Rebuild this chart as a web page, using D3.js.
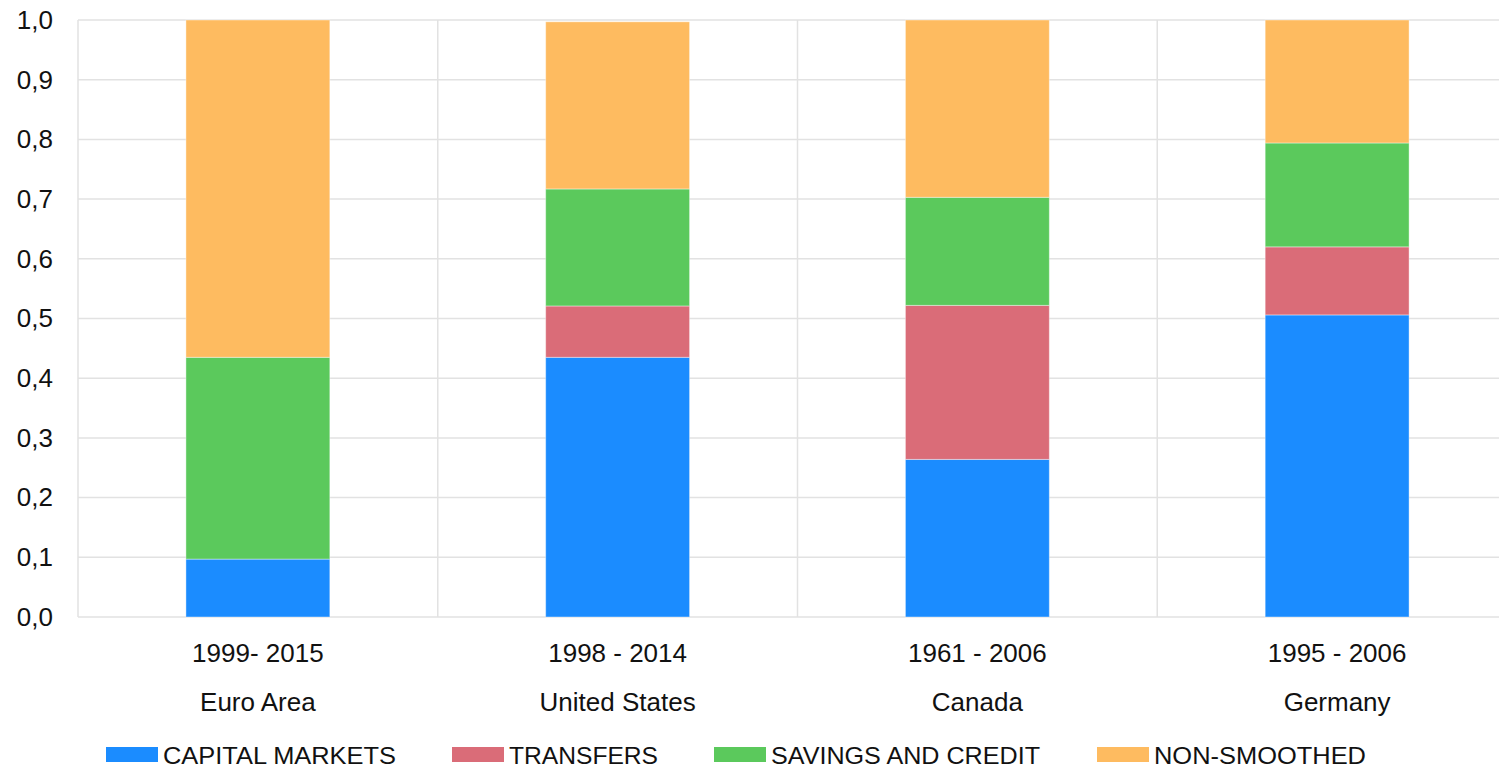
<!DOCTYPE html>
<head>
    <meta charset="utf-8">
    <style>
        body { margin: 0; background: #fff; }
        text { font-family: "Liberation Sans", Arial, sans-serif; fill: #111; }
        .grid line { stroke: #e2e2e2; stroke-width: 1.5; }
        .axis path, .axis line { display: none; }
    </style>
</head>
<svg width="1499" height="768" class="bar-chart"></svg>
<script src="https://cdn.jsdelivr.net/npm/d3@7/dist/d3.min.js"></script>
<script>
    const countries = ["Euro Area", "United States", "Canada", "Germany"];
    const periods = ["1999- 2015", "1998 - 2014", "1961 - 2006", "1995 - 2006"];
    const seriesNames = ["CAPITAL MARKETS", "TRANSFERS", "SAVINGS AND CREDIT", "NON-SMOOTHED"];
    const capitalMarkets = [0.097, 0.435, 0.264, 0.506];
    const transfers = [0.0, 0.086, 0.258, 0.114];
    const savingsCredit = [0.338, 0.196, 0.181, 0.174];
    const nonSmoothed = [0.565, 0.280, 0.297, 0.206];
    const yTicks = [0, 0.1, 0.2, 0.3, 0.4, 0.5, 0.6, 0.7, 0.8, 0.9, 1.0];
    const colors = ["#1b8cff", "#da6c78", "#5bc95c", "#febb60"];

    var svg = d3.select(".bar-chart"),
        margin = {top: 20, right: -18, bottom: 151, left: 78},
        width = +svg.attr("width") - margin.left - margin.right,
        height = +svg.attr("height") - margin.top - margin.bottom;

    var x = d3.scaleBand().domain(countries).range([0, width]).paddingInner(0).paddingOuter(0),
        y = d3.scaleLinear().domain([0, 1]).range([height, 0]);

    var g = svg.append("g")
        .attr("transform", "translate(" + margin.left + "," + margin.top + ")");

    // grid
    var grid = g.append("g").attr("class", "grid");
    grid.selectAll(".h").data(yTicks).enter().append("line")
        .attr("x1", 0).attr("x2", width)
        .attr("y1", d => y(d)).attr("y2", d => y(d));
    grid.selectAll(".v").data(countries.concat(["end"])).enter().append("line")
        .attr("x1", (d, i) => i * x.bandwidth()).attr("x2", (d, i) => i * x.bandwidth())
        .attr("y1", 0).attr("y2", height);

    // y axis
    g.append("g")
        .attr("class", "axis")
        .attr("transform", "translate(-25,0)")
        .call(d3.axisLeft(y).tickValues(yTicks).tickSize(0).tickPadding(0)
            .tickFormat(d => d3.format(".1f")(d).replace(".", ",")))
        .selectAll("text").style("font-size", "26px");

    // stacked data
    var rows = countries.map((c, i) => ({
        country: c,
        "CAPITAL MARKETS": capitalMarkets[i],
        "TRANSFERS": transfers[i],
        "SAVINGS AND CREDIT": savingsCredit[i],
        "NON-SMOOTHED": nonSmoothed[i]
    }));
    var stacked = d3.stack().keys(seriesNames)(rows);

    var barW = x.bandwidth() * 0.4;
    g.selectAll(".series")
        .data(stacked)
        .enter().append("g")
        .attr("fill", (d, i) => colors[i])
        .selectAll("rect")
        .data(d => d)
        .enter().append("rect")
        .attr("x", d => x(d.data.country) + (x.bandwidth() - barW) / 2)
        .attr("y", d => y(d[1]))
        .attr("width", barW)
        .attr("height", d => y(d[0]) - y(d[1]))
        .attr("stroke", "#fff")
        .attr("stroke-opacity", 0.4)
        .attr("stroke-width", 1);

    // category labels
    g.selectAll(".period").data(periods).enter().append("text")
        .attr("x", (d, i) => x(countries[i]) + x.bandwidth() / 2)
        .attr("y", height + 45)
        .attr("text-anchor", "middle")
        .style("font-size", "26px")
        .text(d => d);
    g.selectAll(".country").data(countries).enter().append("text")
        .attr("x", d => x(d) + x.bandwidth() / 2)
        .attr("y", height + 94)
        .attr("text-anchor", "middle")
        .style("font-size", "26px")
        .text(d => d);

    // legend
    var legendX = [106, 452, 714, 1097];
    var legendW = [233, 149, 269, 212];
    var legend = svg.selectAll(".legend").data(seriesNames).enter().append("g")
        .attr("transform", (d, i) => "translate(" + legendX[i] + ",747)");
    legend.append("rect")
        .attr("width", 52).attr("height", 15)
        .attr("fill", (d, i) => colors[i]);
    legend.append("text")
        .attr("x", 57).attr("y", 17)
        .attr("textLength", (d, i) => legendW[i])
        .attr("lengthAdjust", "spacingAndGlyphs")
        .style("font-size", "24px")
        .text(d => d);
</script>
